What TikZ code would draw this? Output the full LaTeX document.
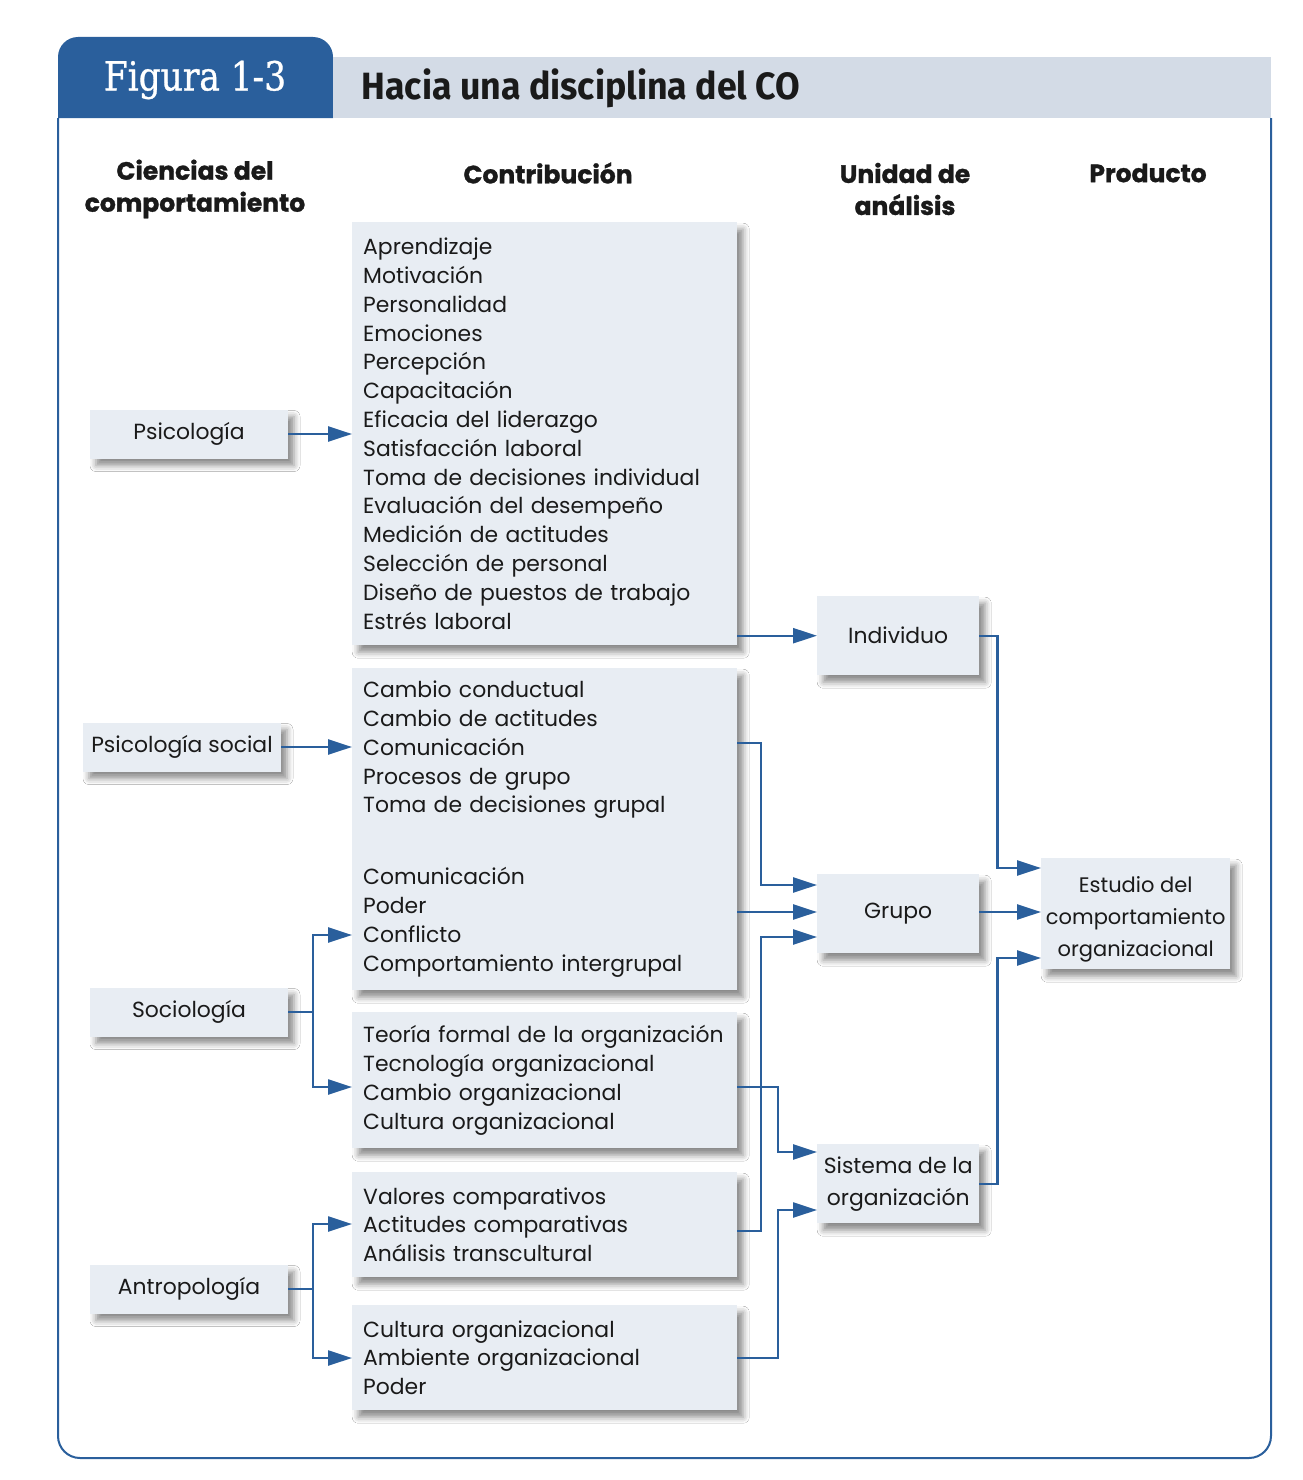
\documentclass[tikz,border=0pt]{standalone}
\usepackage{fontspec}
\setmainfont{Poppins}
\newfontfamily\heavyfont[BoldFeatures={FakeBold=1.2}]{Poppins}
\newfontfamily\titlefont[FakeStretch=0.94]{Fira Sans}
\newfontfamily\figfont[FakeStretch=0.86,FakeBold=0.8]{DejaVu Serif}
\usetikzlibrary{arrows.meta,shadows.blur}
\definecolor{tabblue}{RGB}{42,95,156}
\definecolor{bandgray}{RGB}{211,219,230}
\definecolor{boxfill}{RGB}{232,237,243}
\definecolor{ink}{RGB}{26,26,26}
\begin{document}
\begin{tikzpicture}[x=1pt,y=-1pt,
  every node/.style={text=ink},
  boxshape/.style={fill=boxfill, inner sep=0pt,
    blur shadow={shadow xshift=6pt, shadow yshift=-7pt, shadow blur radius=6pt, shadow opacity=45}},
  bodyfont/.style={font=\fontsize{21.9}{28.8}\selectfont},
  listbox/.style={boxshape, bodyfont, anchor=north west, minimum width=385pt,
    text width=363pt, inner xsep=11pt, align=left},
  smallbox/.style={boxshape, bodyfont, minimum width=198pt, minimum height=49pt, align=center},
  unitbox/.style={boxshape, font=\fontsize{21.9}{32}\selectfont, anchor=north west, minimum width=162pt, minimum height=79pt, align=center},
  headtext/.style={font=\heavyfont\fontsize{25}{32}\selectfont\bfseries, align=center},
  arr/.style={draw=tabblue, line width=2.4pt, -{Triangle[length=24pt,width=15pt]}},
  link/.style={draw=tabblue, line width=2.4pt}
]
\useasboundingbox (0,0) rectangle (1302,1480);
\fill[white] (0,0) rectangle (1302,1480);
% header
\fill[tabblue] (58,118) [rounded corners=20pt] -- (58,37) -- (333,37) [sharp corners] -- (333,118) -- cycle;
\fill[bandgray] (333,57) rectangle (1271,118);
\draw[tabblue, line width=2pt, rounded corners=22pt] (58,118) -- (58,1458) -- (1271,1458) -- (1271,118);
\node[text=white, font=\figfont\fontsize{40}{40}\selectfont] (fig) at (195,80) {Figura 1-3};
\node[anchor=west, font=\titlefont\bfseries\fontsize{38}{38}\selectfont] (title) at (358,88) {Hacia una disciplina del CO};

% column headers
\node[headtext] (h1) at (195,189) {Ciencias del\\comportamiento};
\node[headtext] (h2) at (548,173) {Contribución};
\node[headtext] (h3) at (905,189) {Unidad de\\análisis};
\node[headtext] (h4) at (1148,173) {Producto};

% sciences
\node[smallbox] (psi) at (189,434) {Psicología};
\node[smallbox] (psis) at (182,747) {Psicología social};
\node[smallbox] (soc) at (189,1012) {Sociología};
\node[smallbox] (ant) at (189,1289) {Antropología};

% contributions
\node[listbox, minimum height=423pt] (c1) at (352,222) {Aprendizaje\\Motivación\\Personalidad\\Emociones\\Percepción\\Capacitación\\Eficacia del liderazgo\\Satisfacción laboral\\Toma de decisiones individual\\Evaluación del desempeño\\Medición de actitudes\\Selección de personal\\Diseño de puestos de trabajo\\Estrés laboral};
\node[listbox, minimum height=322pt] (c2) at (352,668) {Cambio conductual\\Cambio de actitudes\\Comunicación\\Procesos de grupo\\Toma de decisiones grupal\\[43.2pt]Comunicación\\Poder\\Conflicto\\Comportamiento intergrupal};
\node[listbox, minimum height=136pt] (c3) at (352,1012) {Teoría formal de la organización\\Tecnología organizacional\\Cambio organizacional\\Cultura organizacional};
\node[listbox, minimum height=105pt] (c4) at (352,1172) {Valores comparativos\\Actitudes comparativas\\Análisis transcultural};
\node[listbox, minimum height=105pt] (c5) at (352,1305) {Cultura organizacional\\Ambiente organizacional\\Poder};

% units
\node[unitbox] (ind) at (817,596) {Individuo};
\node[unitbox] (gru) at (817,874) {Grupo};
\node[unitbox] (sis) at (817,1144) {Sistema de la\\organización};

% product
\node[boxshape, font=\fontsize{21}{32}\selectfont, anchor=north west, minimum width=189pt, minimum height=111pt, align=center] (est) at (1041,858) {\rule{0pt}{28pt}Estudio del\\comportamiento\\organizacional};

% connectors: sciences -> contributions
\draw[arr] (psi.east) -- (psi.east -| c1.west);
\draw[arr] (psis.east) -- (psis.east -| c2.west);
\draw[link] (soc.east) -- ++(25,0) coordinate (sj);
\draw[arr] (sj) |- (c2.west |- 0,935);
\draw[arr] (sj) |- (c3.west |- 0,1087);
\draw[link] (ant.east) -- ++(25,0) coordinate (aj);
\draw[arr] (aj) |- (c4.west |- 0,1224);
\draw[arr] (aj) |- (c5.west |- 0,1358);

% contributions -> units
\draw[arr] (c1.east |- ind.west) -- (ind.west);
\draw[arr] (c2.east |- 0,743) -- (761,743) |- (gru.west |- 0,885);
\draw[arr] (c2.east |- 0,912) -- (gru.west |- 0,912);
\draw[arr] (c4.east |- 0,1231) -- (761,1231) |- (gru.west |- 0,937);
\draw[arr] (c3.east |- 0,1087) -- (778,1087) |- (sis.west |- 0,1152);
\draw[arr] (c5.east |- 0,1358) -- (778,1358) |- (sis.west |- 0,1210);

% units -> product
\draw[arr] (ind.east) -- ++(18,0) |- (est.west |- 0,868);
\draw[arr] (gru.east |- 0,912) -- (est.west |- 0,912);
\draw[arr] (sis.east) -- ++(18,0) |- (est.west |- 0,958);
\end{tikzpicture}
\end{document}
